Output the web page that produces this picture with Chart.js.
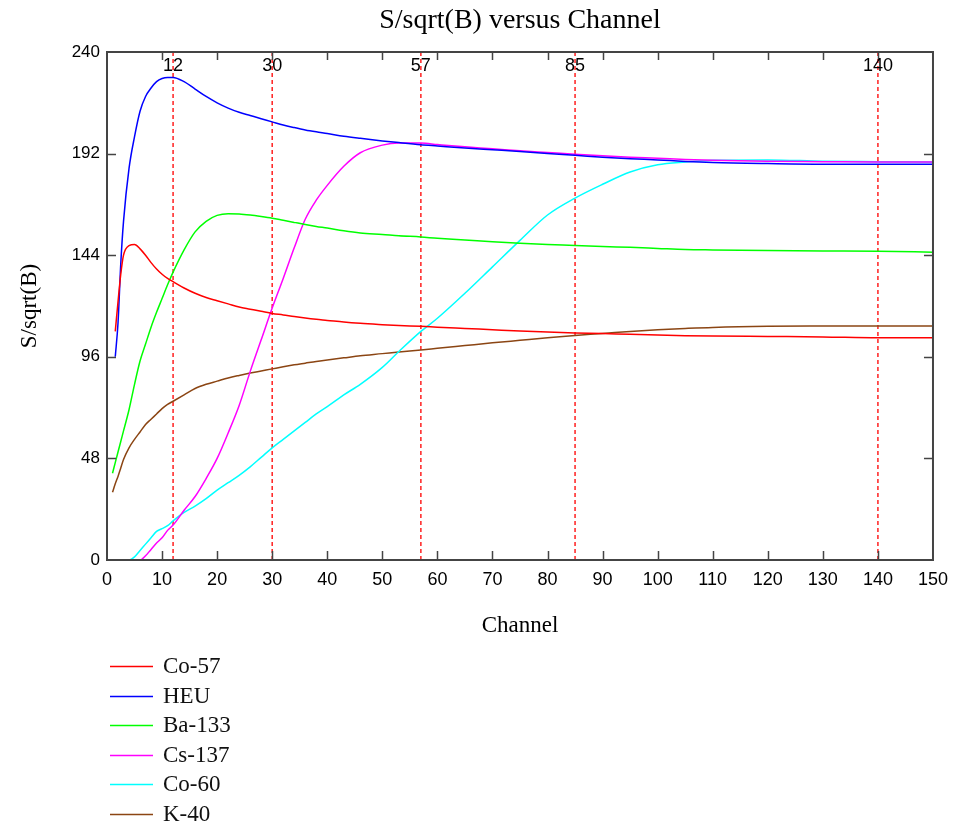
<!DOCTYPE html>
<html>
<head>
<meta charset="utf-8">
<title>S/sqrt(B) versus Channel</title>
<script src="https://cdn.jsdelivr.net/npm/chart.js@4.4.1/dist/chart.umd.min.js"></script>
<style>
    body { margin: 0; background: #fff; }
    canvas { display: block; }
</style>
</head>
<body>
<canvas id="grafico" width="957" height="825"></canvas>
<script>
// canais onde cada curva foi lida
const canais = [1, 1.5, 2, 2.5, 3, 4, 5, 6, 7, 8, 9, 10, 11, 12, 14, 16, 18, 20, 22, 24, 26, 28, 30,
    32, 34, 36, 38, 40, 43, 46, 50, 53, 57, 60, 65, 70, 75, 80, 85, 90, 95, 100, 105, 110, 120, 130, 140, 150];

const co57 = [null, 108, 122, 135, 144, 148.5, 149, 147, 144, 140.5, 137.5, 135, 133, 131.5, 128.5, 126, 124, 122.5, 121, 119.5, 118.5, 117.5, 116.5,
    115.8, 115, 114.3, 113.7, 113.2, 112.4, 111.8, 111.2, 110.8, 110.4, 110, 109.4, 108.8, 108.2, 107.7, 107.3, 107, 106.6, 106.3, 106, 105.8, 105.6, 105.4, 105, 105];
const heu = [null, 96, 112, 140, 160, 185, 200, 212, 219, 223, 226, 227.5, 228, 228, 226, 222.5, 219, 216, 213.5, 211.5, 210, 208.5, 207,
    205.5, 204.3, 203.2, 202.3, 201.5, 200.2, 199.2, 198, 197.2, 196.2, 195.6, 194.6, 193.8, 193, 192, 191.2, 190.3, 189.6, 189, 188.3, 187.8, 187.3, 187, 187, 187];
const ba133 = [41, 46, 51, 56, 61, 71, 83, 94, 102, 110, 117, 123.5, 130, 136, 146.5, 155, 160, 162.8, 163.6, 163.5, 163, 162.3, 161.5,
    160.5, 159.5, 158.5, 157.6, 156.8, 155.5, 154.5, 153.8, 153.2, 152.6, 152, 151.2, 150.3, 149.6, 149, 148.6, 148.1, 147.7, 147.2, 146.7, 146.5, 146.2, 146, 145.9, 145.4];
const cs137 = [null, null, null, null, null, null, 0, 0, 2, 5, 8, 10.5, 14, 16.5, 23.5, 30, 38.5, 48, 60, 73, 89, 104, 119,
    133, 147.5, 161, 170, 177, 186, 192.4, 196, 197, 197, 196.3, 195.2, 194.3, 193.3, 192.5, 191.7, 191, 190.3, 189.8, 189.2, 188.8, 188.4, 188.2, 188, 188];
const co60 = [0, 0, 0, 0, 0, 0, 1.5, 4.5, 7.5, 10.5, 13.5, 14.8, 16.2, 18.5, 22.5, 25.5, 29, 33, 36.5, 40, 44, 48.5, 53,
    57, 61, 65, 69, 72.5, 78, 83, 91, 98.5, 108, 114.2, 126, 138.5, 151, 163, 171, 177.5, 183.3, 186.7, 188, 188.8, 189, 188.4, 188.2, 188];
const k40 = [32, 36, 39.5, 43.5, 47.5, 53, 57, 60.5, 64, 66.5, 69, 71.5, 73.5, 75, 78, 81, 83, 84.5, 86, 87.2, 88.3, 89.3, 90.3,
    91.3, 92.2, 93, 93.8, 94.5, 95.5, 96.5, 97.5, 98.3, 99.2, 100, 101.3, 102.6, 103.8, 105, 106.1, 107, 108, 108.8, 109.4, 109.9, 110.4, 110.5, 110.5, 110.5];

const nomes = ['Co-57', 'HEU', 'Ba-133', 'Cs-137', 'Co-60', 'K-40'];
const series = [co57, heu, ba133, cs137, co60, k40];
const cores = ['#ff0000', '#0000ff', '#00ff00', '#ff00ff', '#00ffff', '#8b4513'];

// canais marcados com linha tracejada
const marcadores = [12, 30, 57, 85, 140];

const xMax = 150;
const yMax = 240;

const serifa = '"Liberation Serif", "Times New Roman", serif';
const semSerifa = '"Liberation Sans", Arial, sans-serif';

function pontos(valores) {
    const lista = [];
    canais.forEach((c, i) => {
        if (valores[i] !== null) lista.push({ x: c, y: valores[i] });
    });
    return lista;
}

const datasets = series.map((valores, i) => ({
    label: nomes[i],
    data: pontos(valores),
    borderColor: cores[i],
    borderWidth: 1.5,
    pointRadius: 0,
    fill: false,
    cubicInterpolationMode: 'monotone',
    legenda: true
}));

marcadores.forEach(m => {
    datasets.push({
        label: String(m),
        data: [{ x: m, y: 0 }, { x: m, y: yMax }],
        borderColor: '#ff2020',
        borderWidth: 1.5,
        borderDash: [4, 3],
        pointRadius: 0,
        fill: false,
        legenda: false
    });
});

// moldura, ticks para dentro, rótulos dos marcadores e legenda
const moldura = {
    id: 'moldura',
    afterDatasetsDraw(chart) {
        const { ctx, chartArea: { left, right, top, bottom }, scales: { x, y } } = chart;
        ctx.save();
        ctx.strokeStyle = '#444';
        ctx.lineWidth = 1.5;
        ctx.beginPath();
        x.ticks.forEach(t => {
            if (t.value <= 0 || t.value >= xMax) return;
            const px = Math.round(x.getPixelForValue(t.value)) + 0.5;
            ctx.moveTo(px, bottom); ctx.lineTo(px, bottom - 9);
            ctx.moveTo(px, top); ctx.lineTo(px, top + 8);
        });
        y.ticks.forEach(t => {
            if (t.value <= 0 || t.value >= yMax) return;
            const py = Math.round(y.getPixelForValue(t.value)) + 0.5;
            ctx.moveTo(left, py); ctx.lineTo(left + 9, py);
            ctx.moveTo(right, py); ctx.lineTo(right - 9, py);
        });
        ctx.stroke();
        ctx.lineWidth = 2;
        ctx.strokeRect(left, top, right - left, bottom - top);

        ctx.fillStyle = '#000';
        ctx.font = '18px ' + semSerifa;
        ctx.textAlign = 'center';
        ctx.textBaseline = 'middle';
        marcadores.forEach(m => ctx.fillText(String(m), x.getPixelForValue(m), top + 14));
        ctx.restore();
    },
    afterDraw(chart) {
        const ctx = chart.ctx;
        const itens = chart.data.datasets.filter(d => d.legenda);
        ctx.save();
        ctx.font = '23px ' + serifa;
        ctx.textBaseline = 'middle';
        ctx.textAlign = 'left';
        itens.forEach((d, i) => {
            const yy = 666 + i * 29.6;
            ctx.strokeStyle = d.borderColor;
            ctx.lineWidth = 1.5;
            ctx.beginPath();
            ctx.moveTo(110, Math.round(yy) + 0.5);
            ctx.lineTo(153, Math.round(yy) + 0.5);
            ctx.stroke();
            ctx.fillStyle = '#111';
            ctx.fillText(d.label, 163, yy + 1);
        });
        ctx.restore();
    }
};

Chart.defaults.color = '#000';

const ctx = document.getElementById('grafico').getContext('2d');
new Chart(ctx, {
    type: 'line',
    data: { datasets },
    options: {
        responsive: false,
        animation: false,
        devicePixelRatio: 1,
        layout: { padding: { top: 0, right: 24, bottom: 180, left: 0 } },
        plugins: {
            legend: { display: false },
            tooltip: { enabled: false },
            title: {
                display: true,
                text: 'S/sqrt(B) versus Channel',
                fullSize: false,
                color: '#000',
                font: { family: serifa, size: 28, weight: 'normal' },
                padding: { top: 4, bottom: 14.4 }
            }
        },
        scales: {
            x: {
                type: 'linear',
                min: 0,
                max: xMax,
                grid: { display: false, drawTicks: false },
                border: { display: false },
                ticks: {
                    stepSize: 10,
                    padding: 9,
                    maxRotation: 0,
                    font: { family: semSerifa, size: 18 }
                },
                title: {
                    display: true,
                    text: 'Channel',
                    font: { family: serifa, size: 23 },
                    padding: { top: 0, bottom: 5 }
                },
                afterFit: s => { s.height = 85; }
            },
            y: {
                min: 0,
                max: yMax,
                grid: { display: false, drawTicks: false },
                border: { display: false },
                ticks: {
                    stepSize: 48,
                    padding: 7,
                    font: { family: semSerifa, size: 17 }
                },
                title: {
                    display: true,
                    text: 'S/sqrt(B)',
                    font: { family: serifa, size: 23 },
                    padding: { top: 16, bottom: 0 }
                },
                afterFit: s => { s.width = 107; }
            }
        }
    },
    plugins: [moldura]
});
</script>
</body>
</html>
